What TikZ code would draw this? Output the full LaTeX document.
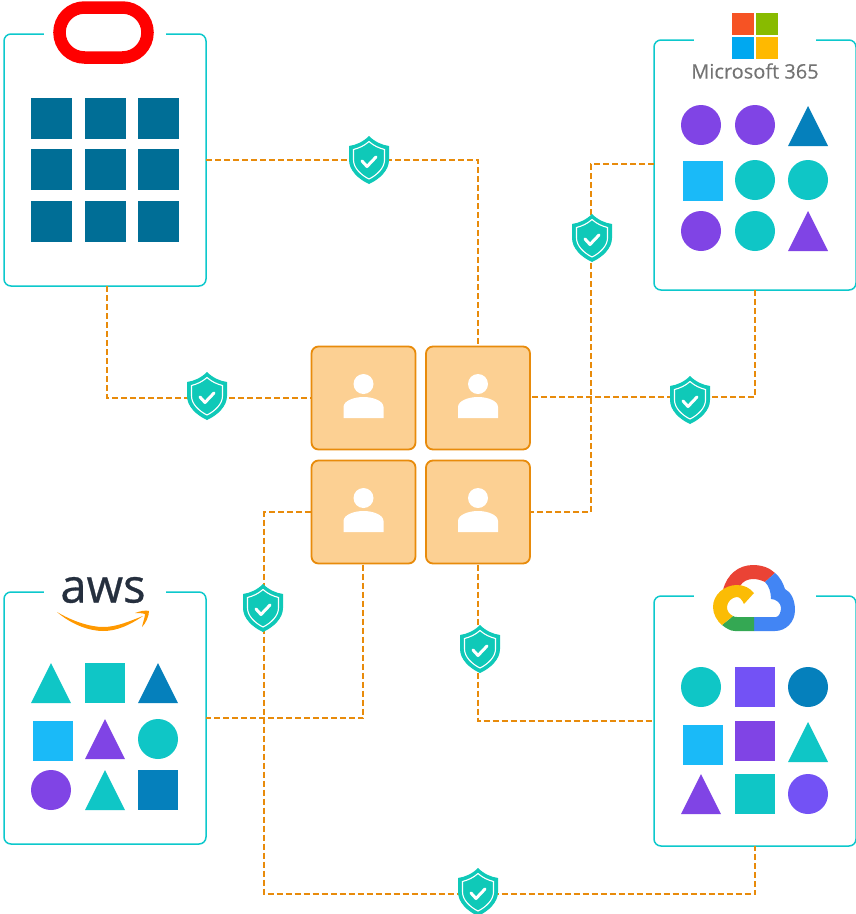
\documentclass[tikz,border=0pt]{standalone}
\usepackage{fontspec}
\newfontfamily\logofont[FakeBold=0.2]{Open Sans}
\newfontfamily\awsfont[FakeBold=0.6]{Open Sans}

\definecolor{paneledge}{HTML}{0CC8CC}
\definecolor{linkorange}{HTML}{E88B0B}
\definecolor{cardfill}{HTML}{FCD093}
\definecolor{shieldteal}{HTML}{0FC9B8}
\definecolor{oracleblue}{HTML}{006E96}
\definecolor{cpurple}{HTML}{8044E5}
\definecolor{cviolet}{HTML}{7352F5}
\definecolor{cblue}{HTML}{0580BC}
\definecolor{csky}{HTML}{1ABAF8}
\definecolor{cteal}{HTML}{0FC6C6}
\definecolor{msred}{HTML}{F65324}
\definecolor{msgreen}{HTML}{88BB00}
\definecolor{msblue}{HTML}{00A8F0}
\definecolor{msyellow}{HTML}{FFB900}
\definecolor{msgrey}{HTML}{737373}
\definecolor{awsink}{HTML}{252F3E}
\definecolor{awssmile}{HTML}{FF9900}
\definecolor{gcred}{HTML}{EA4335}
\definecolor{gcblue}{HTML}{4285F4}
\definecolor{gcgreen}{HTML}{34A853}
\definecolor{gcyellow}{HTML}{FBBC05}

\tikzset{
  panel/.style={draw=paneledge, line width=1.5pt, rounded corners=7pt, fill=white,
    minimum width=202pt, inner sep=0pt, outer sep=0pt},
  panelgap/.style={fill=white, minimum width=122pt, minimum height=6pt, inner sep=0pt},
  usercard/.default=0pt,
  usercard/.style={draw=linkorange, fill=cardfill, line width=1.8pt, rounded corners=7pt,
    minimum width=104pt, minimum height=103pt, inner sep=0pt, outer sep=1pt,
    path picture={
      \begin{scope}[sharp corners, shift={(path picture bounding box.center)}, xshift=#1]
        \fill[white] (0,-14) circle (10pt);
        \fill[white] (-20,20) -- (-20,9) .. controls (-20,3) and (-10,-1) .. (0,-1)
          .. controls (10,-1) and (20,3) .. (20,9) -- (20,20) -- cycle;
      \end{scope}}},
  link/.style={draw=linkorange, line width=1.8pt, dash pattern=on 6pt off 3pt},
  shieldmark/.style={minimum width=44pt, minimum height=52pt, inner sep=0pt,
    path picture={
      \begin{scope}[shift={(path picture bounding box.center)}]
        \fill[shieldteal] (0,-24) .. controls (-6,-18) and (-13,-15) .. (-20,-14)
          -- (-20,0) .. controls (-20,10) and (-11,19) .. (0,24)
          .. controls (11,19) and (20,10) .. (20,0) -- (20,-14)
          .. controls (13,-15) and (6,-18) .. (0,-24) -- cycle;
        \draw[white, line width=1.1pt] (0,-18.5) .. controls (-5,-14) and (-10,-12) .. (-15.5,-10.5)
          -- (-15.5,0) .. controls (-15.5,8) and (-8,15) .. (0,19)
          .. controls (8,15) and (15.5,8) .. (15.5,0) -- (15.5,-10.5)
          .. controls (10,-12) and (5,-14) .. (0,-18.5) -- cycle;
        \draw[white, line width=3pt, line cap=round, line join=round] (-7,1) -- (-2,6.5) -- (7,-3);
      \end{scope}}},
  boxshape/.style={rectangle, fill=#1, minimum size=40pt, inner sep=0pt},
  dotshape/.style={circle, fill=#1, minimum size=40pt, inner sep=0pt},
  trishape/.style={rectangle, minimum size=40pt, inner sep=0pt,
    path picture={
      \fill[#1] (path picture bounding box.south west) -- (path picture bounding box.south east)
        -- (path picture bounding box.north) -- cycle;}},
  mstile/.style={rectangle, fill=#1, minimum size=22pt, inner sep=0pt},
}

\begin{document}
\begin{tikzpicture}[x=1pt, y=-1pt]
  \useasboundingbox (0,0) rectangle (856,914);

  % the four clouds
  \node[panel, minimum height=252pt] (oracle) at (105,160) {};
  \node[panel, minimum height=250pt] (ms) at (755,165) {};
  \node[panel, minimum height=252pt] (aws) at (105,718) {};
  \node[panel, minimum height=250pt] (gc) at (755,721) {};
  \node[panelgap] (oraclegap) at (oracle.north) {};
  \node[panelgap] (msgap) at (ms.north) {};
  \node[panelgap] (awsgap) at (aws.north) {};
  \node[panelgap] (gcgap) at (gc.north) {};

  % users in the middle
  \node[usercard] (tl) at (363.5,398) {};
  \node[usercard=-2pt] (tr) at (478,398) {};
  \node[usercard] (bl) at (363.5,512) {};
  \node[usercard=-2pt] (br) at (478,512) {};

  \coordinate (msbend) at (591,512);
  \coordinate (gcbend) at (264,894);

  \draw[link] (oracle.east) -| (tr.north);
  \draw[link] ([xshift=2pt]oracle.south) |- (tl.west);
  \draw[link] ([yshift=1pt]ms.west) -| (msbend) -- (br.east);
  \draw[link] (ms.south) |- ([yshift=1pt]tr.east);
  \draw[link] (bl.west) -| (gcbend) -| (gc.south);
  \draw[link] ([xshift=-.5pt]bl.south) |- (aws.east);
  \draw[link] (br.south) |- (gc.west);

  \begin{scope}[every node/.style={shieldmark}]
    \node (s1) at (369,160) {};
    \node (s2) at (207,396) {};
    \node (s3) at (592,238) {};
    \node (s4) at (690,400) {};
    \node (s5) at (263,608) {};
    \node (s6) at (480,649) {};
    \node (s7) at (478,892) {};
  \end{scope}

  % oracle tiles
  \begin{scope}[every node/.style={boxshape=oracleblue, minimum size=41pt}]
    \node (o1) at (51,118) {};
    \node (o2) at (105,118) {};
    \node (o3) at (158,118) {};
    \node (o4) at (51,169) {};
    \node (o5) at (105,169) {};
    \node (o6) at (158,169) {};
    \node (o7) at (51,221) {};
    \node (o8) at (105,221) {};
    \node (o9) at (158,221) {};
  \end{scope}

  % microsoft shapes
  \node[dotshape=cpurple] (m1) at (701,125) {};
  \node[dotshape=cpurple] (m2) at (755,125) {};
  \node[trishape=cblue] (m3) at (808,126) {};
  \node[boxshape=csky] (m4) at (703,181) {};
  \node[dotshape=cteal] (m5) at (755,180) {};
  \node[dotshape=cteal] (m6) at (808,180) {};
  \node[dotshape=cpurple] (m7) at (701,231) {};
  \node[dotshape=cteal] (m8) at (755,231) {};
  \node[trishape=cpurple] (m9) at (808,231) {};

  % aws shapes
  \node[trishape=cteal] (a1) at (51,683) {};
  \node[boxshape=cteal] (a2) at (105,683) {};
  \node[trishape=cblue] (a3) at (158,683) {};
  \node[boxshape=csky] (a4) at (53,741) {};
  \node[trishape=cpurple] (a5) at (105,739) {};
  \node[dotshape=cteal] (a6) at (158,739) {};
  \node[dotshape=cpurple] (a7) at (51,790) {};
  \node[trishape=cteal] (a8) at (105,790) {};
  \node[boxshape=cblue] (a9) at (158,790) {};

  % google shapes
  \node[dotshape=cteal] (g1) at (701,687) {};
  \node[boxshape=cviolet] (g2) at (755,687) {};
  \node[dotshape=cblue] (g3) at (808,687) {};
  \node[boxshape=csky] (g4) at (703,745) {};
  \node[boxshape=cpurple] (g5) at (755,741) {};
  \node[trishape=cteal] (g6) at (808,742) {};
  \node[trishape=cpurple] (g7) at (701,794) {};
  \node[boxshape=cteal] (g8) at (755,794) {};
  \node[dotshape=cviolet] (g9) at (808,794) {};

  % logos
  \node[draw=red, line width=12.5pt, rounded corners=25pt, minimum width=88pt,
    minimum height=50pt, inner sep=0pt] (oraclelogo) at (103.5,32.5) {};

  \node[mstile=msred] (mstile1) at (742.5,24) {};
  \node[mstile=msgreen] (mstile2) at (766.5,24) {};
  \node[mstile=msblue] (mstile3) at (742.5,48) {};
  \node[mstile=msyellow] (mstile4) at (766.5,48) {};
  \node[text=msgrey, inner sep=0pt] (mslabel) at (755,71)
    {\logofont\fontsize{20}{20}\selectfont Microsoft 365};

  \node[text=awsink, inner sep=0pt] (awslabel) at (103,590)
    {\awsfont\fontsize{47}{47}\selectfont aws};
  \fill[awssmile] (57,612) .. controls (72,625) and (90,631) .. (103,631)
    .. controls (117,631) and (130,625) .. (143,616) .. controls (130,621) and (117,627) .. (103,627)
    .. controls (90,627) and (72,621) .. (57,612) -- cycle;
  \fill[awssmile] (135,613) .. controls (140,611) and (146,610) .. (149,611)
    .. controls (149,616) and (146,623) .. (142,627) .. controls (143,622) and (145,617) .. (145,614)
    .. controls (142,613) and (138,613) .. (135,613) -- cycle;

  \fill[gcred] (723,590) .. controls (727,574) and (739,565) .. (753,565)
    .. controls (762,565) and (770,568) .. (775,573) -- (765,582)
    .. controls (761,580) and (757,579) .. (753,579) .. controls (748,579) and (743,581) .. (740,586) -- cycle;
  \fill[gcblue] (775,573) .. controls (780,577) and (783,583) .. (785,589)
    .. controls (791,592) and (795,600) .. (795,610) .. controls (795,622) and (786,631) .. (775,631)
    -- (754,631) -- (754,617) -- (776,617) .. controls (779,617) and (781,612) .. (781,608)
    .. controls (781,603) and (776,599) .. (771,599) .. controls (771,592) and (769,586) .. (765,582) -- cycle;
  \fill[gcgreen] (754,631) -- (735,631) .. controls (730,631) and (726,628) .. (722,625)
    -- (733,616) .. controls (734,617) and (736,617) .. (737,617) -- (754,617) -- cycle;
  \fill[gcyellow] (754,593) .. controls (750,588) and (744,585) .. (737,585)
    .. controls (724,585) and (713,595) .. (713,607) .. controls (713,614) and (717,621) .. (722,625)
    -- (733,616) .. controls (729,614) and (727,611) .. (727,607) .. controls (727,602) and (732,597) .. (737,597)
    .. controls (740,597) and (742,600) .. (744,604) -- cycle;
\end{tikzpicture}
\end{document}
